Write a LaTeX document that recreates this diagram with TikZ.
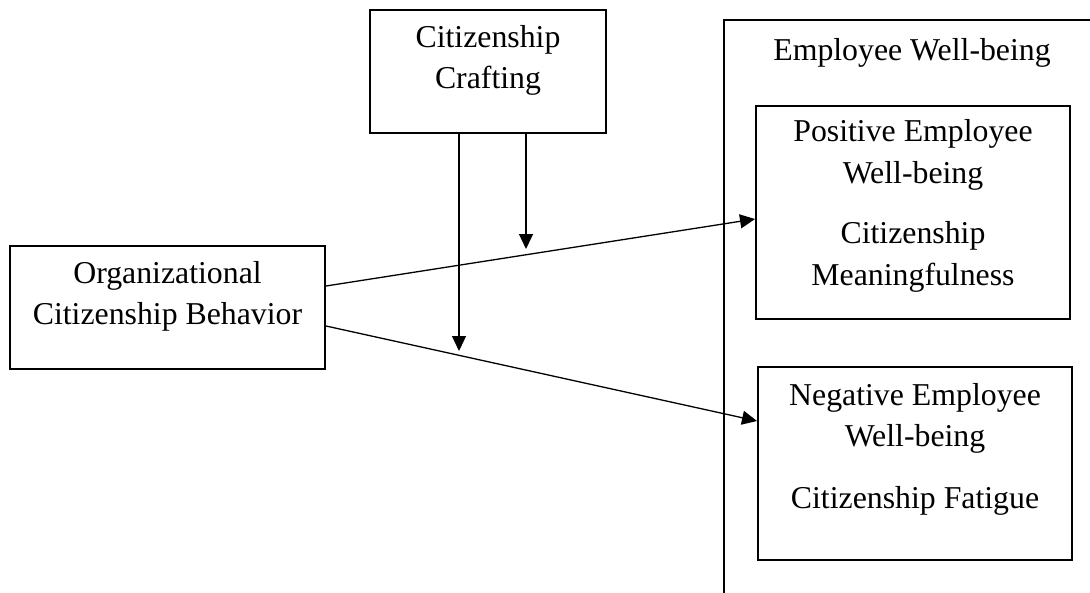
\documentclass[tikz,border=0pt]{standalone}
\usepackage{fontspec}
\setmainfont{Liberation Serif}
\usetikzlibrary{positioning, arrows.meta, calc}

\begin{document}
\begin{tikzpicture}[
  x=0.5pt, y=-0.5pt,
  >={Triangle[length=7.5pt, width=7pt]},
  every node/.style={font=\fontsize{15.9}{20.75}\selectfont},
  box/.style={draw, line width=1pt, inner sep=0pt},
  txt/.style={align=center, inner sep=0pt},
  link/.style={->, line width=0.65pt}
]
\useasboundingbox (0,0) rectangle (1090,593);

% Left: predictor and moderator
\node[box, minimum width=157.5pt, minimum height=61.5pt] (ocb) at (167.5,307.5) {};
\node[txt] (ocbtext) at (167.5,296.5) {Organizational\\Citizenship Behavior};
\node[box, minimum width=118pt, minimum height=61.5pt] (craft) at (488,71.5) {};
\node[txt] (crafttext) at (488,60.5) {Citizenship\\Crafting};

% Right: well-being frame (cut by the page edge)
\draw[line width=1pt] (724,593) -- (724,20) -- (1090,20);
\node[txt] (ewb) at (912,53) {Employee Well-being};

\node[box, minimum width=157pt, minimum height=106.5pt] (pos) at (913,212.5) {};
\node[txt] (postext) at (913,206) {Positive Employee\\Well-being\\[9.5pt]Citizenship\\Meaningfulness};
\node[box, minimum width=157pt, minimum height=96.5pt] (neg) at (915,463.5) {};
\node[txt] (negtext) at (915,449) {Negative Employee\\Well-being\\[10pt]Citizenship Fatigue};

% Main paths
\draw[link] ($(ocb.east)+(0,-21.5)$) -- ($(pos.west)+(0,6.5)$);
\draw[link] ($(ocb.east)+(0,18.5)$) -- ($(neg.west)+(0,-42.5)$);

% Moderation
\coordinate (m1) at (459,351);
\coordinate (m2) at (526,249);
\draw[link] (craft.south -| m1) -- (m1);
\draw[link] (craft.south -| m2) -- (m2);

\end{tikzpicture}
\end{document}
